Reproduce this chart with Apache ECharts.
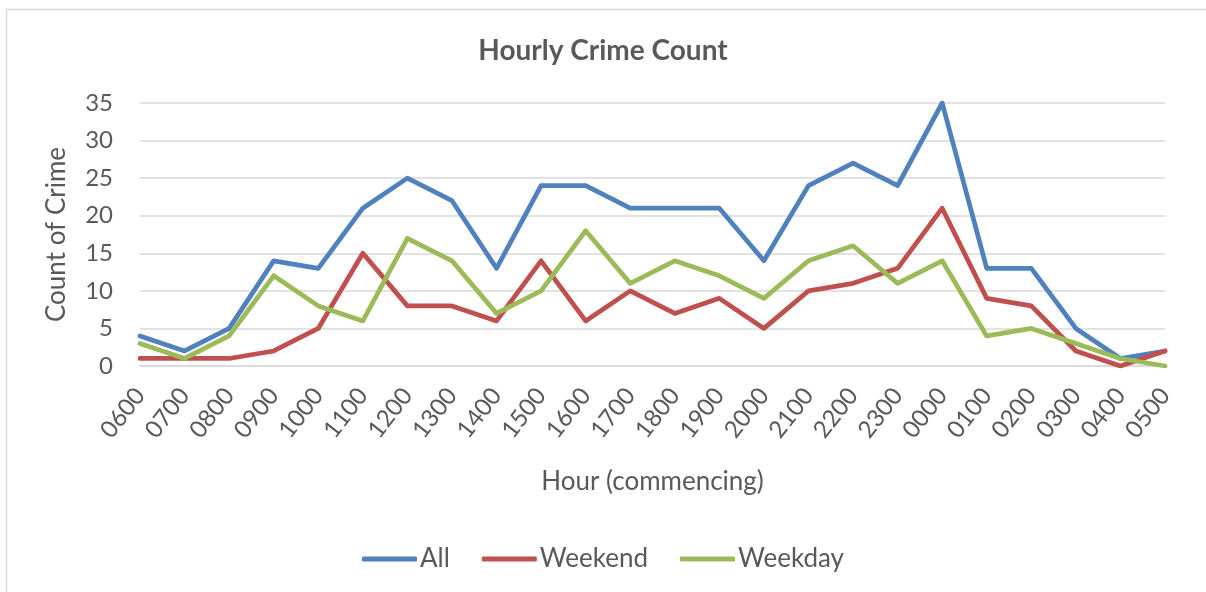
<!DOCTYPE html>
<html>
<head>
<meta charset="utf-8">
<script src="https://cdn.jsdelivr.net/npm/echarts@6/dist/echarts.min.js"></script>
<style>
html,body{margin:0;padding:0;background:#fff;}
#chart{width:1206px;height:592px;}
</style>
</head>
<body>
<div id="chart"></div>
<script>
const hours = ['0600','0700','0800','0900','1000','1100','1200','1300','1400','1500','1600','1700','1800','1900','2000','2100','2200','2300','0000','0100','0200','0300','0400','0500'];
const allCounts = [4,2,5,14,13,21,25,22,13,24,24,21,21,21,14,24,27,24,35,13,13,5,1,2];
const weekendCounts = [1,1,1,2,5,15,8,8,6,14,6,10,7,9,5,10,11,13,21,9,8,2,0,2];
const weekdayCounts = [3,1,4,12,8,6,17,14,7,10,18,11,14,12,9,14,16,11,14,4,5,3,1,0];
const yTicks = [0,5,10,15,20,25,30,35];

const FONT = 'Lato';
const TXT = '#595959';
const chart = echarts.init(document.getElementById('chart'));
function lineSeries(name, data, color) {
  return {
    name: name, type: 'line', data: data, symbol: 'none',
    lineStyle: { color: color, width: 4.75, cap: 'round', join: 'round' },
    itemStyle: { color: color },
    emphasis: { disabled: true }
  };
}
chart.setOption({
  animation: false,
  backgroundColor: '#fff',
  textStyle: { fontFamily: FONT, color: TXT },
  graphic: [{
    type: 'polyline', silent: true,
    shape: { points: [[6.5, 600], [6.5, 9.5], [1210, 9.5]] },
    style: { stroke: '#D9D9D9', lineWidth: 1.5, fill: null }
  }],
  title: {
    text: 'Hourly Crime Count', left: 'center', top: 32,
    textStyle: { fontFamily: FONT, fontSize: 28, fontWeight: 'bold', color: TXT }
  },
  legend: {
    bottom: 15, left: 'center', itemWidth: 55, itemHeight: 5, itemGap: 32,
    icon: 'roundRect',
    textStyle: { fontFamily: FONT, fontSize: 26, color: TXT, padding: [0, 0, 0, -2] },
    data: ['All', 'Weekend', 'Weekday']
  },
  grid: { left: 140, right: 41, top: 103, bottom: 226, containLabel: false },
  xAxis: {
    type: 'category', data: hours, boundaryGap: false,
    name: 'Hour (commencing)', nameLocation: 'middle', nameGap: 103,
    nameTextStyle: { fontFamily: FONT, fontSize: 26, color: TXT },
    axisLine: { lineStyle: { color: '#D9D9D9', width: 1.5 } },
    axisTick: { show: false },
    axisLabel: { rotate: 52, fontFamily: FONT, fontSize: 24, color: TXT, margin: 25, interval: 0 },
    splitLine: { show: false }
  },
  yAxis: {
    type: 'value', min: 0, max: 35, interval: 5,
    name: 'Count of Crime', nameLocation: 'middle', nameGap: 70,
    nameTextStyle: { fontFamily: FONT, fontSize: 26, color: TXT },
    axisLine: { show: false }, axisTick: { show: false },
    axisLabel: { fontFamily: FONT, fontSize: 24, color: TXT, margin: 27,
      formatter: v => yTicks.indexOf(v) >= 0 ? String(v) : '' },
    splitLine: { lineStyle: { color: '#D9D9D9', width: 1.5 } }
  },
  series: [
    lineSeries('All', allCounts, '#4F81BD'),
    lineSeries('Weekend', weekendCounts, '#C0504D'),
    lineSeries('Weekday', weekdayCounts, '#9BBB59')
  ]
});
</script>
</body>
</html>
